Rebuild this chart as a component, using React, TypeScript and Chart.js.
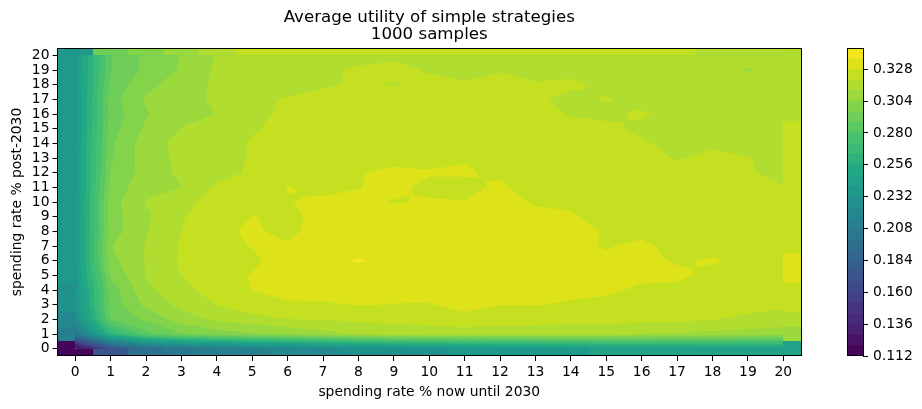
import React, { useEffect, useRef } from 'react';
import { Chart, registerables } from 'chart.js';

Chart.register(...registerables);

const FONT = '"DejaVu Sans", sans-serif';

const xLabels = [0, 1, 2, 3, 4, 5, 6, 7, 8, 9, 10, 11, 12, 13, 14, 15, 16, 17, 18, 19, 20];
const yLabels = [0, 1, 2, 3, 4, 5, 6, 7, 8, 9, 10, 11, 12, 13, 14, 15, 16, 17, 18, 19, 20];

// utility by post-2030 rate (row) and pre-2030 rate (column)
const row0 = [0.116, 0.17, 0.196, 0.204, 0.208, 0.214, 0.218, 0.222, 0.226, 0.228, 0.23, 0.232, 0.234, 0.236, 0.238, 0.24, 0.242, 0.242, 0.244, 0.244, 0.244];
const row1 = [0.205, 0.262, 0.285, 0.295, 0.3, 0.303, 0.3055, 0.309, 0.313, 0.315, 0.316, 0.316, 0.3155, 0.315, 0.314, 0.314, 0.312, 0.311, 0.31, 0.309, 0.308];
const row2 = [0.225, 0.288, 0.298, 0.308, 0.3135, 0.3165, 0.3198, 0.3205, 0.3215, 0.3225, 0.3227, 0.3252, 0.3235, 0.3235, 0.323, 0.323, 0.3225, 0.322, 0.3203, 0.3185, 0.3165];
const row3 = [0.232, 0.291, 0.306, 0.3145, 0.3203, 0.3255, 0.3272, 0.3272, 0.3283, 0.3278, 0.3275, 0.3308, 0.3282, 0.3283, 0.3272, 0.3262, 0.3265, 0.3255, 0.3245, 0.3225, 0.3215];
const row4 = [0.234, 0.2915, 0.31, 0.3175, 0.3235, 0.3281, 0.33, 0.3305, 0.3305, 0.3305, 0.3305, 0.33, 0.3305, 0.331, 0.3297, 0.3292, 0.3268, 0.3265, 0.3255, 0.3245, 0.325];
const row5 = [0.236, 0.2975, 0.3125, 0.32, 0.3255, 0.3284, 0.3315, 0.333, 0.3335, 0.3335, 0.3335, 0.333, 0.3325, 0.3315, 0.3305, 0.3305, 0.3295, 0.3292, 0.3265, 0.3255, 0.326];
const row6 = [0.238, 0.3015, 0.3125, 0.3212, 0.326, 0.3265, 0.332, 0.3345, 0.3365, 0.3345, 0.3335, 0.3335, 0.3335, 0.3325, 0.331, 0.329, 0.3292, 0.3275, 0.3285, 0.3265, 0.3265];
const row7 = [0.238, 0.3035, 0.3125, 0.3208, 0.3259, 0.3283, 0.3288, 0.332, 0.3335, 0.3335, 0.3335, 0.3335, 0.333, 0.331, 0.3292, 0.3276, 0.3292, 0.326, 0.3262, 0.3255, 0.3255];
const row8 = [0.238, 0.3, 0.3115, 0.32, 0.3265, 0.329, 0.3262, 0.3312, 0.332, 0.3325, 0.333, 0.3325, 0.331, 0.3305, 0.3292, 0.3277, 0.3265, 0.326, 0.3255, 0.325, 0.325];
const row9 = [0.238, 0.3005, 0.3105, 0.3195, 0.3235, 0.3282, 0.3268, 0.3295, 0.33, 0.331, 0.3315, 0.332, 0.3315, 0.3288, 0.3285, 0.3263, 0.3255, 0.325, 0.3245, 0.324, 0.3245];
const row10 = [0.238, 0.3005, 0.3125, 0.318, 0.3225, 0.325, 0.3279, 0.3285, 0.329, 0.3278, 0.3283, 0.3281, 0.329, 0.3277, 0.3272, 0.3255, 0.325, 0.3245, 0.324, 0.3235, 0.3225];
const row11 = [0.238, 0.2985, 0.3095, 0.312, 0.3215, 0.3235, 0.3281, 0.3272, 0.3279, 0.3288, 0.3272, 0.3272, 0.3285, 0.3265, 0.326, 0.3255, 0.325, 0.324, 0.323, 0.3225, 0.3203];
const row12 = [0.238, 0.2965, 0.3075, 0.3135, 0.3165, 0.3215, 0.3272, 0.327, 0.3278, 0.3288, 0.3283, 0.3283, 0.3275, 0.3265, 0.3255, 0.325, 0.324, 0.3225, 0.322, 0.3205, 0.3185];
const row13 = [0.238, 0.295, 0.308, 0.314, 0.3175, 0.3205, 0.3225, 0.324, 0.3268, 0.3268, 0.3268, 0.3278, 0.327, 0.3255, 0.3245, 0.3235, 0.3225, 0.3195, 0.3215, 0.3203, 0.3175];
const row14 = [0.238, 0.2945, 0.3085, 0.3145, 0.3175, 0.3205, 0.322, 0.3235, 0.324, 0.3245, 0.3245, 0.3245, 0.324, 0.3235, 0.323, 0.3225, 0.321, 0.3175, 0.319, 0.3175, 0.3175];
const row15 = [0.238, 0.2925, 0.3055, 0.3122, 0.3165, 0.3195, 0.3215, 0.323, 0.3235, 0.324, 0.324, 0.324, 0.3235, 0.3225, 0.3215, 0.3215, 0.3185, 0.318, 0.3175, 0.3175, 0.317];
const row16 = [0.238, 0.2915, 0.3033, 0.3095, 0.3122, 0.3185, 0.3212, 0.3225, 0.323, 0.3235, 0.3235, 0.3235, 0.323, 0.3215, 0.3197, 0.3185, 0.321, 0.3175, 0.317, 0.3165, 0.3165];
const row17 = [0.238, 0.2925, 0.305, 0.3085, 0.3135, 0.3175, 0.3208, 0.3225, 0.3225, 0.323, 0.323, 0.3215, 0.3225, 0.3215, 0.3175, 0.3205, 0.317, 0.3165, 0.3165, 0.316, 0.316];
const row18 = [0.238, 0.29, 0.302, 0.3075, 0.3135, 0.3165, 0.3168, 0.319, 0.321, 0.3195, 0.3225, 0.3205, 0.3225, 0.3207, 0.3217, 0.3178, 0.3165, 0.316, 0.316, 0.3165, 0.316];
const row19 = [0.238, 0.2875, 0.298, 0.3048, 0.3135, 0.3165, 0.3165, 0.3165, 0.3225, 0.3225, 0.3193, 0.3185, 0.3195, 0.3175, 0.3175, 0.316, 0.3155, 0.3155, 0.316, 0.3112, 0.3155];
const row20 = [0.238, 0.2875, 0.298, 0.3045, 0.3125, 0.3165, 0.3165, 0.316, 0.3145, 0.3183, 0.3175, 0.317, 0.317, 0.3165, 0.3165, 0.316, 0.316, 0.3155, 0.315, 0.3165, 0.316];
const rows = [row0, row1, row2, row3, row4, row5, row6, row7, row8, row9, row10, row11, row12, row13, row14, row15, row16, row17, row18, row19, row20];

// the half-cell blocks round the contour area
const bottomEdge = [0.116, 0.17, 0.196, 0.204, 0.208, 0.214, 0.218, 0.222, 0.226, 0.228, 0.23, 0.232, 0.234, 0.236, 0.238, 0.24, 0.242, 0.242, 0.244, 0.244, 0.244];
const topEdge = [0.236, 0.292, 0.3, 0.308, 0.316, 0.324, 0.324, 0.324, 0.324, 0.324, 0.324, 0.324, 0.324, 0.324, 0.324, 0.324, 0.324, 0.324, 0.316, 0.316, 0.316];
const leftEdge = [0.116, 0.21, 0.218, 0.228, 0.228, 0.236, 0.236, 0.236, 0.236, 0.236, 0.236, 0.236, 0.236, 0.236, 0.236, 0.236, 0.236, 0.236, 0.236, 0.236, 0.236];
const rightEdge = [0.244, 0.308, 0.316, 0.324, 0.324, 0.332, 0.332, 0.327, 0.327, 0.327, 0.327, 0.327, 0.324, 0.324, 0.324, 0.324, 0.316, 0.316, 0.316, 0.316, 0.316];

const levels = [0.112, 0.12, 0.128, 0.136, 0.144, 0.152, 0.16, 0.168, 0.176, 0.184, 0.192, 0.2, 0.208, 0.216, 0.224, 0.232, 0.24, 0.248, 0.256, 0.264, 0.272, 0.28, 0.288, 0.296, 0.304, 0.312, 0.32, 0.328, 0.336, 0.344];
const bandColors = ['#450559', '#471365', '#482173', '#472a7a', '#463480', '#424086', '#3e4b8a', '#3a548c', '#355e8d', '#31678e', '#2e6f8e', '#2a788e', '#27808e', '#23898e', '#21918c', '#1f998a', '#1fa287', '#22a884', '#2db27d', '#3bbb75', '#48c16e', '#5cc863', '#6ece58', '#84d44b', '#9bd93c', '#b0dd2f', '#c5e021', '#dde318', '#f4e61e'];
const colorbarTicks = [0.112, 0.136, 0.16, 0.184, 0.208, 0.232, 0.256, 0.28, 0.304, 0.328];

type P = [number, number, number];

const clipAbove = (poly: P[], lo: number) => {
  const out: P[] = [];
  poly.forEach((a, n) => {
    const b = poly[(n + 1) % poly.length];
    if (a[2] >= lo) out.push(a);
    if (a[2] >= lo !== b[2] >= lo) {
      const t = (lo - a[2]) / (b[2] - a[2]);
      out.push([a[0] + (b[0] - a[0]) * t, a[1] + (b[1] - a[1]) * t, lo]);
    }
  });
  return out;
};

// fills v >= level for each band in turn, lower bands first
const contourPlugin = {
  id: 'contour',
  beforeDatasetsDraw(chart: any) {
    const { ctx, chartArea, scales } = chart;
    const px = (v: number) => scales.x.getPixelForValue(v);
    const py = (v: number) => scales.y.getPixelForValue(v);
    ctx.save();
    ctx.beginPath();
    ctx.rect(chartArea.left, chartArea.top, chartArea.right - chartArea.left, chartArea.bottom - chartArea.top);
    ctx.clip();
    bandColors.forEach((color, k) => {
      const lo = levels[k];
      ctx.beginPath();
      const addPoly = (poly: P[]) => {
        const c = clipAbove(poly, lo);
        c.forEach((p, n) => (n ? ctx.lineTo(px(p[0]), py(p[1])) : ctx.moveTo(px(p[0]), py(p[1]))));
        if (c.length) ctx.closePath();
      };
      for (let j = 0; j < rows.length - 1; j++) {
        for (let i = 0; i < xLabels.length - 1; i++) {
          const q: P[] = [
            [i, j, rows[j][i]],
            [i + 1, j, rows[j][i + 1]],
            [i + 1, j + 1, rows[j + 1][i + 1]],
            [i, j + 1, rows[j + 1][i]],
          ];
          const hi = q.map((p) => p[2] >= lo);
          if (hi[0] === hi[2] && hi[1] === hi[3] && hi[0] !== hi[1]) {
            const mid: P = [i + 0.5, j + 0.5, (q[0][2] + q[1][2] + q[2][2] + q[3][2]) / 4];
            q.forEach((p, n) => addPoly([p, q[(n + 1) % 4], mid]));
          } else {
            addPoly(q);
          }
        }
      }
      ctx.fillStyle = color;
      ctx.fill();
    });

    const band = (v: number) => bandColors[Math.min(bandColors.length - 1, levels.filter((l) => l <= v).length - 1)];
    const block = (x0: number, x1: number, y0: number, y1: number, v: number) => {
      const l = Math.round(px(x0));
      const r = Math.round(px(x1));
      const t = Math.round(py(y1));
      const b = Math.round(py(y0));
      ctx.fillStyle = band(v);
      ctx.fillRect(l, t, r - l, b - t);
    };
    xLabels.forEach((x, n) => {
      block(x - 0.5, x + 0.5, -0.5, 0, bottomEdge[n]);
      block(x - 0.5, x + 0.5, 20, 20.5, topEdge[n]);
    });
    yLabels.forEach((y, n) => {
      block(-0.5, 0, y - 0.5, y + 0.5, leftEdge[n]);
      block(20, 20.5, y - 0.5, y + 0.5, rightEdge[n]);
    });
    ctx.restore();
  },
};

const framePlugin = {
  id: 'frame',
  afterDraw(chart: any) {
    const { ctx, chartArea: a } = chart;
    const l = Math.round(a.left) - 0.5;
    const t = Math.round(a.top) + 0.5;
    const r = Math.round(a.right) + 0.5;
    const b = Math.round(a.bottom) - 0.5;
    ctx.save();
    ctx.strokeStyle = '#000';
    ctx.lineWidth = 1;
    ctx.strokeRect(l, t, r - l, b - t);
    ctx.restore();
  },
};

const tickFont = { family: FONT, size: 13.89 };
const tickStyle = {
  autoSkip: false,
  maxRotation: 0,
  color: '#000',
  font: tickFont,
};
const gridStyle = { drawOnChartArea: false, drawTicks: true, tickLength: 5, tickColor: '#000', tickWidth: 1 };

export default function App() {
  const mainRef = useRef<HTMLCanvasElement | null>(null);
  const barRef = useRef<HTMLCanvasElement | null>(null);

  useEffect(() => {
    if (!mainRef.current || !barRef.current) return;

    const main = new Chart(mainRef.current, {
      type: 'scatter',
      data: {
        datasets: [
          {
            data: rows.flatMap((r, j) => r.map((v, i) => ({ x: xLabels[i], y: yLabels[j], v }))),
            pointRadius: 0,
          },
        ],
      },
      options: {
        responsive: false,
        animation: false,
        layout: { padding: { left: 0, top: 0, right: 121, bottom: 0 } },
        plugins: {
          legend: { display: false },
          tooltip: { enabled: false },
          title: {
            display: true,
            fullSize: false,
            text: ['Average utility of simple strategies', '1000 samples'],
            color: '#000',
            font: { family: FONT, size: 16.67, weight: 'normal', lineHeight: 1.05 },
            padding: { top: 8.5, bottom: 4.5 },
          },
        },
        scales: {
          x: {
            type: 'linear',
            min: -0.5,
            max: 20.5,
            afterBuildTicks: (s: any) => {
              s.ticks = xLabels.map((value) => ({ value }));
            },
            afterFit: (s: any) => {
              s.height = 53;
            },
            ticks: { ...tickStyle, padding: 3 },
            grid: gridStyle,
            border: { display: false },
            title: {
              display: true,
              text: 'spending rate % now until 2030',
              color: '#000',
              font: tickFont,
              padding: { top: 4, bottom: 8 },
            },
          },
          y: {
            type: 'linear',
            min: -0.5,
            max: 20.5,
            afterBuildTicks: (s: any) => {
              s.ticks = yLabels.map((value) => ({ value }));
            },
            afterFit: (s: any) => {
              s.width = 57.5;
            },
            ticks: { ...tickStyle, padding: 3 },
            grid: gridStyle,
            border: { display: false },
            title: {
              display: true,
              text: 'spending rate % post-2030',
              color: '#000',
              font: tickFont,
              padding: { top: 9, bottom: 4 },
            },
          },
        },
      },
      plugins: [contourPlugin, framePlugin],
    } as any);

    const bar = new Chart(barRef.current, {
      type: 'bar',
      data: {
        labels: [''],
        datasets: bandColors.map((color, k) => ({
          data: [[levels[k], levels[k + 1]]],
          backgroundColor: color,
          grouped: false,
          barPercentage: 1,
          categoryPercentage: 1,
        })),
      },
      options: {
        responsive: false,
        animation: false,
        layout: { padding: { left: 8, top: 48, right: 0, bottom: 53 } },
        plugins: { legend: { display: false }, tooltip: { enabled: false } },
        scales: {
          x: { display: false },
          y: {
            position: 'right',
            min: 0.112,
            max: 0.344,
            afterBuildTicks: (s: any) => {
              s.ticks = colorbarTicks.map((value) => ({ value }));
            },
            afterFit: (s: any) => {
              s.width = 59;
            },
            ticks: { ...tickStyle, padding: 5, callback: (v: any) => Number(v).toFixed(3) },
            grid: gridStyle,
            border: { display: false },
          },
        },
      },
      plugins: [framePlugin],
    } as any);

    return () => {
      main.destroy();
      bar.destroy();
    };
  }, []);

  return (
    <div style={{ position: 'fixed', left: 0, top: 0, width: 922, height: 409, background: '#fff' }}>
      <canvas ref={mainRef} width={922} height={409} style={{ position: 'absolute', left: 0, top: 0 }} />
      <canvas ref={barRef} width={82} height={409} style={{ position: 'absolute', left: 840, top: 0 }} />
    </div>
  );
}
